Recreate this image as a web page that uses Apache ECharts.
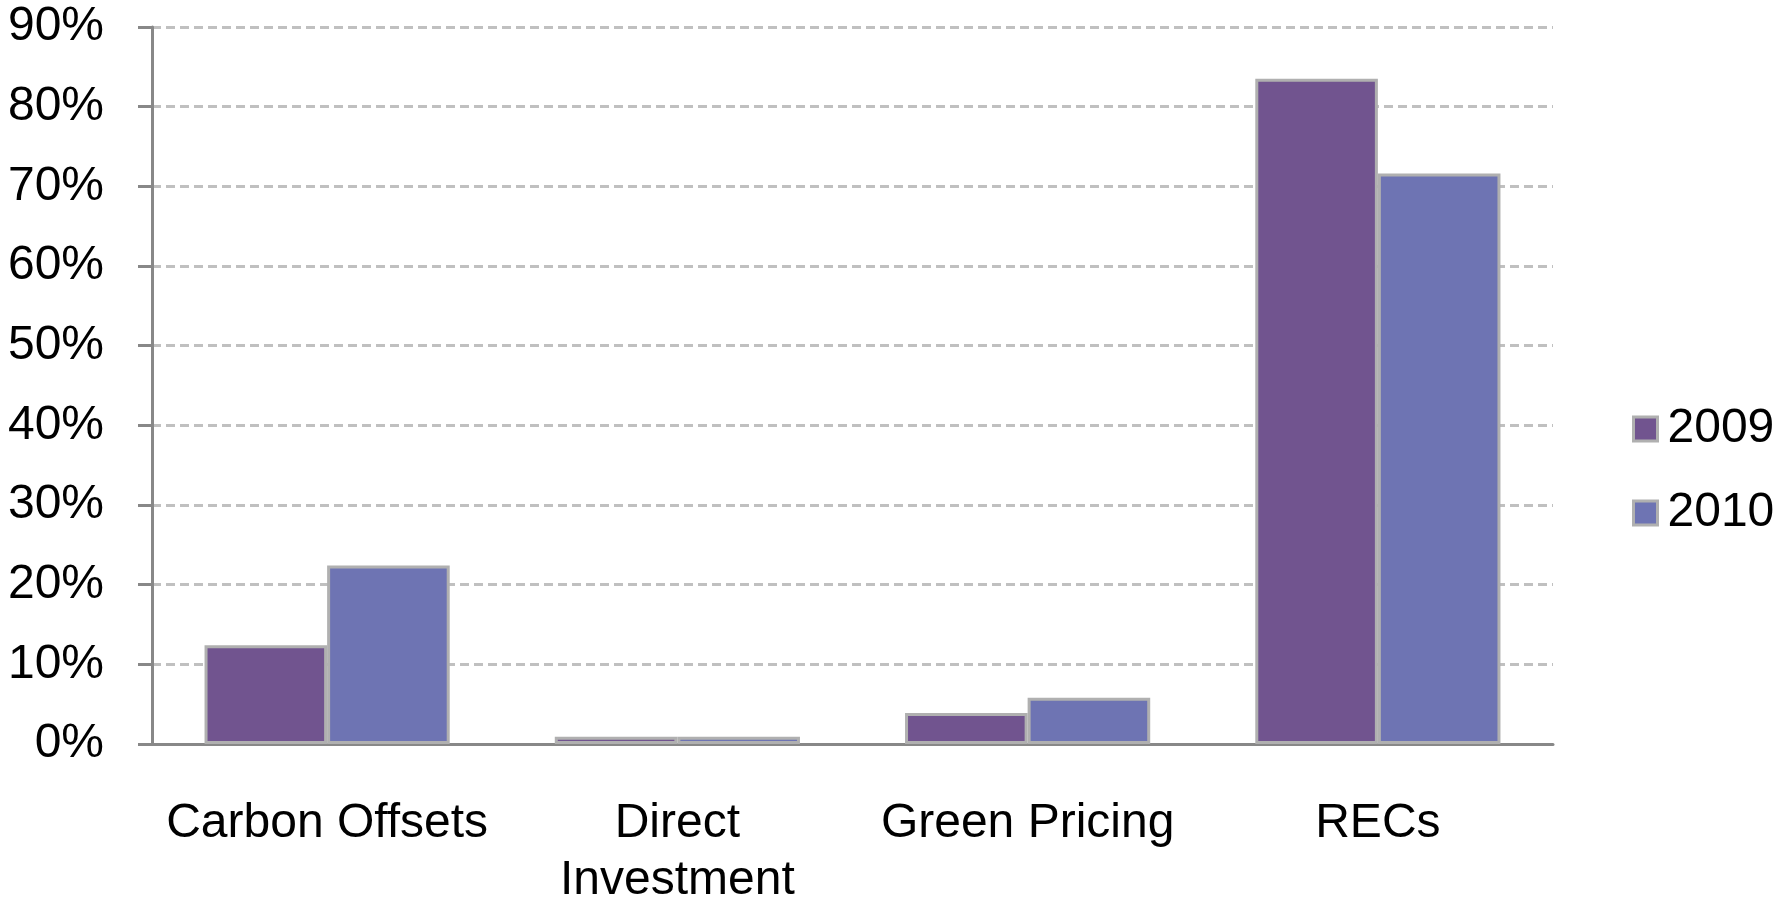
<!DOCTYPE html>
<html><head><meta charset="utf-8">
<script src="https://cdn.jsdelivr.net/npm/echarts@6/dist/echarts.min.js"></script>
<style>html,body{margin:0;padding:0;background:#fff}#c{width:1787px;height:901px}</style>
</head><body><div id="c"></div>
<script>
const categories = ['Carbon Offsets', 'Direct\nInvestment', 'Green Pricing', 'RECs'];
const values2009 = [12.4, 0.9, 3.9, 83.5];
const values2010 = [22.4, 0.9, 5.8, 71.6];
const yTicks = [0, 10, 20, 30, 40, 50, 60, 70, 80, 90];

const chart = echarts.init(document.getElementById('c'));
const font = 'Liberation Sans, Arial, sans-serif';
chart.setOption({
  animation: false,
  grid: { left: 152, right: 234, top: 27, bottom: 157, outerBoundsMode: 'none', containLabel: false },
  legend: {
    orient: 'vertical', left: 1632, top: 405, padding: 0,
    itemWidth: 24, itemHeight: 24, itemGap: 36, icon: 'rect',
    itemStyle: { borderColor: '#b0b0b0', borderWidth: 3 },
    textStyle: { fontFamily: font, fontSize: 48, color: '#000', padding: [0, 0, 0, 5] },
    data: ['2009', '2010']
  },
  xAxis: {
    type: 'category', data: categories,
    axisLine: { lineStyle: { color: '#888', width: 3 } },
    axisTick: { length: 14, lineStyle: { color: '#888', width: 3 } },
    axisLabel: { fontFamily: font, fontSize: 48, color: '#000', margin: 51, lineHeight: 57, interval: 0 }
  },
  yAxis: {
    type: 'value', min: 0, max: 90, interval: 10,
    axisLine: { show: true, lineStyle: { color: '#888', width: 3 } },
    axisTick: { show: true, length: 14, lineStyle: { color: '#888', width: 3 } },
    axisLabel: { fontFamily: font, fontSize: 48, color: '#000', margin: 48,
      formatter: v => yTicks.includes(v) ? v + '%' : '' },
    splitLine: { lineStyle: { color: '#c0c0c0', width: 3, type: [9, 5] } }
  },
  series: [
    { name: '2009', type: 'bar', data: values2009, barGap: '0%', barCategoryGap: '30%',
      itemStyle: { color: '#71548f', borderColor: '#b0b0b0', borderWidth: 3 } },
    { name: '2010', type: 'bar', data: values2010,
      itemStyle: { color: '#6e74b3', borderColor: '#b0b0b0', borderWidth: 3 } }
  ]
});
</script></body></html>
